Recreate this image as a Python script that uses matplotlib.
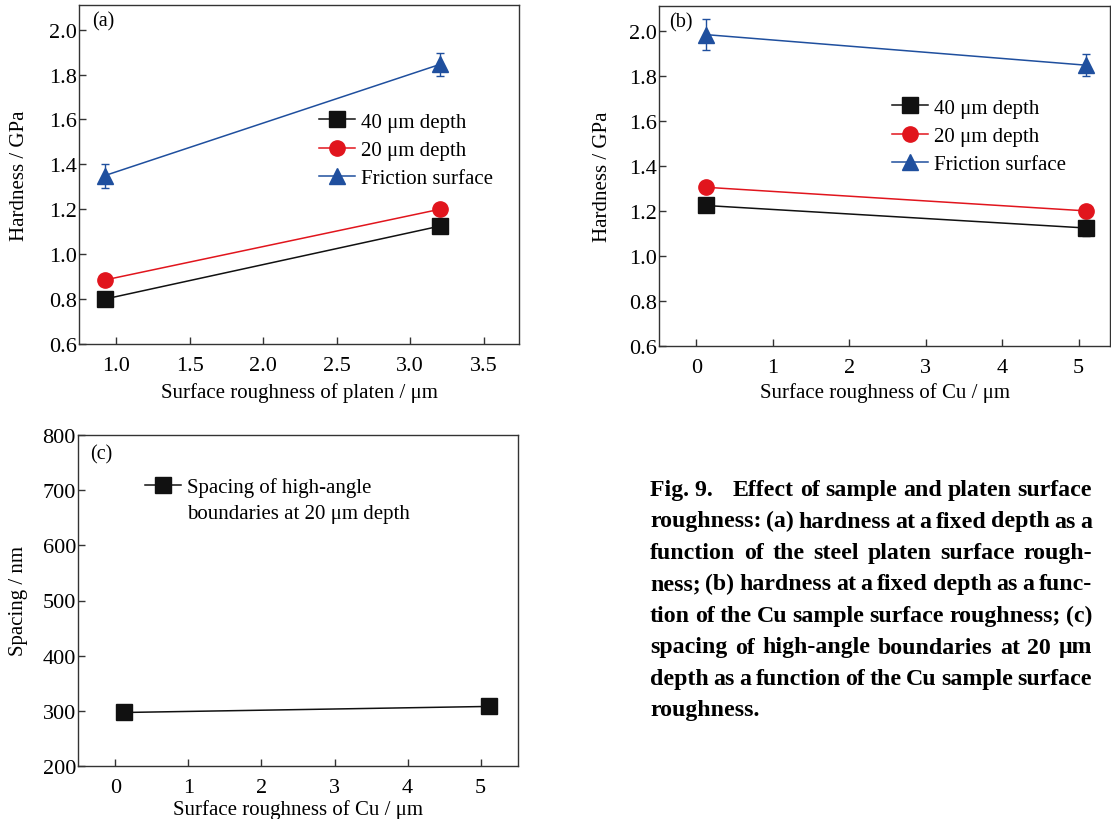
import matplotlib
matplotlib.use("Agg")
import matplotlib.pyplot as plt
from matplotlib.ticker import MultipleLocator, FormatStrFormatter

plt.rcParams["font.family"] = ["Liberation Serif", "DejaVu Serif"]

## Daten
# (a) Rauheit der Platte
xa = [0.92, 3.2]
a_40 = [0.80, 1.125]
a_40_err = [0.015, 0.032]
a_20 = [0.885, 1.20]
a_20_err = [0.01, 0.012]
a_fr = [1.35, 1.845]
a_fr_err = [0.053, 0.05]

# (b) Rauheit der Cu-Probe
xb = [0.12, 5.1]
b_40 = [1.224, 1.124]
b_40_err = [0.02, 0.035]
b_20 = [1.305, 1.20]
b_20_err = [0.01, 0.015]
b_fr = [1.983, 1.847]
b_fr_err = [0.07, 0.048]

# (c) Abstand der Grosswinkelkorngrenzen
xc = [0.12, 5.12]
c_sp = [297, 308]

labels = ["40 \u03bcm depth", "20 \u03bcm depth", "Friction surface"]
label_c1 = "Spacing of high-angle"
label_c2 = "boundaries at 20 \u03bcm depth"

caption = [
    "Fig. 9.  Effect of sample and platen surface",
    "roughness: (a) hardness at a fixed depth as a",
    "function of the steel platen surface rough-",
    "ness; (b) hardness at a fixed depth as a func-",
    "tion of the Cu sample surface roughness; (c)",
    "spacing of high-angle boundaries at 20 \u03bcm",
    "depth as a function of the Cu sample surface",
    "roughness.",
]

BLACK = "#111111"
RED = "#e1151d"
BLUE = "#1f4f9e"
FS = 16      # Tick-Beschriftung
LFS = 15     # Achsentitel und Legende
W, H = 1111, 820

fig = plt.figure(figsize=(W / 100, H / 100), dpi=100)


def box(l, t, r, b):
    return [l / W, 1 - b / H, (r - l) / W, (b - t) / H]


ax_a = fig.add_axes(box(79, 6, 519, 345))
ax_b = fig.add_axes(box(659, 7, 1110, 347))
ax_c = fig.add_axes(box(78, 436, 518, 767))


def style(ax):
    for s in ax.spines.values():
        s.set_color("#333333")
        s.set_linewidth(1.0)
    ax.tick_params(direction="in", length=5, width=1.0, color="#333333",
                   labelsize=FS, top=False, right=False)
    ax.tick_params(axis="y", pad=1.5)
    ax.tick_params(axis="x", pad=9.0)


def series(ax, x, y, err, color, marker):
    c = ax.errorbar(x, y, yerr=err, color=color, marker=marker, markersize=11,
                    lw=1.1, elinewidth=1.0, capsize=3, capthick=1.0)
    return c[0]


def legend(ax, handles, texts, x, y):
    return ax.legend(handles, texts, loc="upper left", bbox_to_anchor=(x, y),
                     frameon=False, fontsize=LFS, handlelength=1.75,
                     handletextpad=0.25, labelspacing=0.42, borderpad=0,
                     borderaxespad=0)


## Teil a
style(ax_a)
la_fr = series(ax_a, xa, a_fr, a_fr_err, BLUE, "^")
la_20 = series(ax_a, xa, a_20, a_20_err, RED, "o")
la_40 = series(ax_a, xa, a_40, a_40_err, BLACK, "s")
ax_a.set_xlim(0.745, 3.74)
ax_a.set_ylim(0.6, 2.11)
ax_a.xaxis.set_major_locator(MultipleLocator(0.5))
ax_a.yaxis.set_major_locator(MultipleLocator(0.2))
ax_a.xaxis.set_major_formatter(FormatStrFormatter("%.1f"))
ax_a.yaxis.set_major_formatter(FormatStrFormatter("%.1f"))
ax_a.set_xlabel("Surface roughness of platen / \u03bcm", fontsize=LFS, va="center")
ax_a.set_ylabel("Hardness / GPa", fontsize=LFS, va="center")
ax_a.xaxis.set_label_coords(0.5, -(393 - 345) / 339)
ax_a.yaxis.set_label_coords((19 - 79) / 440, 0.5)
legend(ax_a, [la_40, la_20, la_fr], labels,
       (319 - 79) / 440, 1 - (113 - 6) / 339)

## Teil b
style(ax_b)
lb_fr = series(ax_b, xb, b_fr, b_fr_err, BLUE, "^")
lb_20 = series(ax_b, xb, b_20, b_20_err, RED, "o")
lb_40 = series(ax_b, xb, b_40, b_40_err, BLACK, "s")
ax_b.set_xlim(-0.49, 5.41)
ax_b.set_ylim(0.6, 2.11)
ax_b.xaxis.set_major_locator(MultipleLocator(1))
ax_b.yaxis.set_major_locator(MultipleLocator(0.2))
ax_b.yaxis.set_major_formatter(FormatStrFormatter("%.1f"))
ax_b.set_xlabel("Surface roughness of Cu / \u03bcm", fontsize=LFS, va="center")
ax_b.set_ylabel("Hardness / GPa", fontsize=LFS, va="center")
ax_b.xaxis.set_label_coords(0.5, -(393 - 347) / 340)
ax_b.yaxis.set_label_coords((602 - 659) / 451, 0.5)
legend(ax_b, [lb_40, lb_20, lb_fr], labels,
       (892 - 659) / 451, 1 - (99 - 7) / 340)

## Teil c
style(ax_c)
lc, = ax_c.plot(xc, c_sp, color=BLACK, marker="s", markersize=11, lw=1.1)
ax_c.set_xlim(-0.51, 5.51)
ax_c.set_ylim(200, 800)
ax_c.xaxis.set_major_locator(MultipleLocator(1))
ax_c.yaxis.set_major_locator(MultipleLocator(100))
ax_c.set_xlabel("Surface roughness of Cu / \u03bcm", fontsize=LFS, va="center")
ax_c.set_ylabel("Spacing / nm", fontsize=LFS, va="center")
ax_c.xaxis.set_label_coords(0.5, -(810 - 767) / 331)
ax_c.yaxis.set_label_coords((19 - 78) / 440, 0.5)
legend(ax_c, [lc], [label_c1], (145 - 78) / 440, 1 - (478 - 436) / 331)
# zweite Zeile des Legendentexts
fig.text(187 / W, 1 - 515 / H, label_c2, fontsize=LFS, ha="left", va="center")

# Panelbeschriftungen
fig.text(92 / W, 1 - 22 / H, "(a)", fontsize=14.5, ha="left", va="center")
fig.text(669 / W, 1 - 23 / H, "(b)", fontsize=14.5, ha="left", va="center")
fig.text(90 / W, 1 - 455 / H, "(c)", fontsize=14.5, ha="left", va="center")

## Bildunterschrift im Blocksatz
r = fig.canvas.get_renderer()
cap_left, cap_right = 650, 1092
cap_fs = 17.2
for i, line in enumerate(caption):
    base = 1 - (496 + i * 31.5) / H
    if i == 0:
        words = ["Fig. 9."] + line.split("  ")[1].split(" ")
    else:
        words = line.split(" ")
    widths = []
    for w_ in words:
        t = fig.text(0, 0, w_, fontsize=cap_fs, fontweight="bold")
        widths.append(t.get_window_extent(r).width)
        t.remove()
    weights = [1.0] * (len(words) - 1)
    if i == 0:
        weights[0] = 3.5
    if i == len(caption) - 1:
        gaps = [5.0] * len(weights)
    else:
        free = (cap_right - cap_left) - sum(widths)
        gaps = [free * wt / sum(weights) for wt in weights]
    x = cap_left
    for j, w_ in enumerate(words):
        fig.text(x / W, base, w_, fontsize=cap_fs, fontweight="bold",
                 ha="left", va="baseline")
        x += widths[j] + (gaps[j] if j < len(gaps) else 0)

fig.savefig("out.png", dpi=100)
